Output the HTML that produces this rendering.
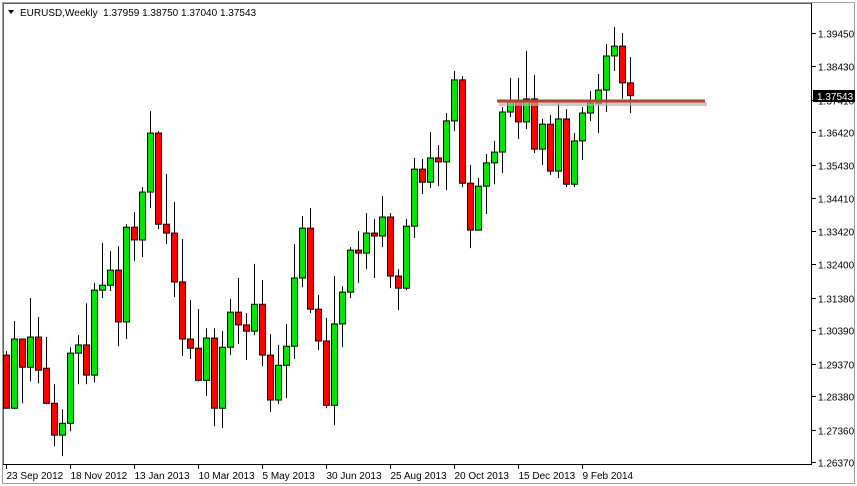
<!DOCTYPE html>
<html><head><meta charset="utf-8"><style>
html,body{margin:0;padding:0;background:#fff;}
body{width:857px;height:486px;overflow:hidden;font-family:"Liberation Sans",sans-serif;}
text{white-space:pre;}
</style></head><body>
<svg id="chart" width="857" height="486" xmlns="http://www.w3.org/2000/svg" style="display:block">
<rect x="0" y="0" width="857" height="486" fill="#fff"/>
<rect x="2.5" y="2.5" width="852" height="481" fill="none" stroke="#a0a0a0"/>
<line x1="3.5" y1="3" x2="3.5" y2="465" stroke="#606060"/>
<line x1="3" y1="3.5" x2="812" y2="3.5" stroke="#606060"/>
<line x1="811.5" y1="3" x2="811.5" y2="465" stroke="#000"/>
<line x1="3" y1="464.5" x2="812" y2="464.5" stroke="#000"/>
<g id="title">
<path d="M8,10 L14,10 L11,14 Z" fill="#000"/>
<text x="20" y="16" font-size="10" fill="#000" xml:space="preserve">EURUSD,Weekly  1.37959 1.38750 1.37040 1.37543</text>
</g>
<g id="yaxis"></g>
<g id="xaxis"></g>
<g id="candles"></g>
<g id="sr">
<line x1="499" y1="104" x2="707" y2="104" stroke="#b4b4b4" stroke-width="4" opacity="0.7"/>
<line x1="497" y1="101" x2="705" y2="101" stroke="#b9412f" stroke-width="3"/>
</g>
<g id="pricetag">
<rect x="813" y="90" width="42" height="12" fill="#000"/>
<text x="817" y="100" font-size="10" fill="#fff">1.37543</text>
</g>
</svg>
<script>
const yTicks=[1.39450,1.38430,1.37410,1.36420,1.35430,1.34410,1.33420,1.32400,1.31380,1.30390,1.29370,1.28380,1.27360,1.26370];
const xLabels=["23 Sep 2012","18 Nov 2012","13 Jan 2013","10 Mar 2013","5 May 2013","30 Jun 2013","25 Aug 2013","20 Oct 2013","15 Dec 2013","9 Feb 2014"];
const opens=[1.2963,1.2801,1.3012,1.2926,1.3018,1.2923,1.2816,1.2719,1.2755,1.2969,1.2994,1.2902,1.3161,1.3176,1.3222,1.3064,1.3353,1.3314,1.3460,1.3640,1.3362,1.3335,1.3186,1.3012,1.2984,1.2886,1.3015,1.2801,1.2987,1.3094,1.3055,1.3036,1.3118,1.2963,1.2826,1.2932,1.2990,1.3198,1.3350,1.3103,1.3006,1.2810,1.3058,1.3155,1.3283,1.3274,1.3335,1.3326,1.3384,1.3204,1.3167,1.3356,1.3530,1.3490,1.3564,1.3552,1.3677,1.3802,1.3487,1.3344,1.3478,1.3549,1.3582,1.3704,1.3735,1.3674,1.3744,1.3591,1.3667,1.3524,1.3683,1.3484,1.3616,1.3701,1.3731,1.3771,1.3875,1.3905,1.3793];
const highs=[1.2975,1.3067,1.3012,1.3137,1.3079,1.3018,1.2874,1.2798,1.2987,1.3024,1.3121,1.3183,1.3305,1.3280,1.3295,1.3362,1.3399,1.3475,1.3707,1.3646,1.3515,1.3430,1.3317,1.3131,1.3103,1.3045,1.3045,1.3036,1.3134,1.3198,1.3091,1.3241,1.3192,1.3027,1.2994,1.3058,1.3301,1.3387,1.3411,1.3146,1.3076,1.3204,1.3173,1.3292,1.3341,1.3396,1.3378,1.3448,1.3396,1.3225,1.3378,1.3564,1.3561,1.3643,1.3603,1.3701,1.3829,1.3814,1.3543,1.3503,1.3576,1.3616,1.3719,1.3808,1.3808,1.3890,1.3817,1.3683,1.3695,1.3731,1.3713,1.3640,1.3719,1.3768,1.3820,1.3911,1.3963,1.3945,1.3872];
const lows=[1.2801,1.2798,1.2816,1.2883,1.2877,1.2813,1.2685,1.2655,1.2731,1.2874,1.2874,1.2880,1.3137,1.3158,1.2990,1.3012,1.3250,1.3262,1.3411,1.3347,1.3301,1.3140,1.2960,1.2951,1.2883,1.2838,1.2746,1.2740,1.2963,1.2997,1.2948,1.3024,1.2929,1.2789,1.2813,1.2832,1.2951,1.3170,1.3091,1.2978,1.2801,1.2749,1.2987,1.3137,1.3183,1.3225,1.3198,1.3292,1.3167,1.3100,1.3161,1.3320,1.3454,1.3472,1.3478,1.3466,1.3646,1.3475,1.3289,1.3344,1.3393,1.3484,1.3518,1.3689,1.3622,1.3652,1.3579,1.3543,1.3512,1.3503,1.3475,1.3475,1.3558,1.3677,1.3640,1.3704,1.3829,1.3744,1.3701];
const closes=[1.2801,1.3012,1.2926,1.3018,1.2917,1.2816,1.2719,1.2755,1.2969,1.2994,1.2902,1.3161,1.3176,1.3222,1.3064,1.3353,1.3314,1.3460,1.3640,1.3362,1.3335,1.3186,1.3012,1.2984,1.2886,1.3015,1.2801,1.2987,1.3094,1.3055,1.3036,1.3118,1.2963,1.2826,1.2932,1.2990,1.3198,1.3350,1.3103,1.3006,1.2810,1.3058,1.3155,1.3283,1.3274,1.3335,1.3326,1.3384,1.3204,1.3167,1.3356,1.3530,1.3490,1.3564,1.3552,1.3677,1.3802,1.3487,1.3344,1.3478,1.3549,1.3582,1.3704,1.3735,1.3674,1.3744,1.3591,1.3667,1.3524,1.3683,1.3484,1.3616,1.3701,1.3731,1.3771,1.3875,1.3905,1.3793,1.3754];

const NS='http://www.w3.org/2000/svg';
function yScale(p){return 33+(1.3945-p)*3280;}
function xScale(i){return 5.5+8*i;}
function mk(tag,attrs,parent){const e=document.createElementNS(NS,tag);for(const k in attrs)e.setAttribute(k,attrs[k]);parent.appendChild(e);return e;}

const ya=document.getElementById('yaxis');
yTicks.forEach(function(v){
  const y=Math.round(yScale(v))+0.5;
  const t=mk('line',{x1:812,y1:y,x2:816,y2:y,stroke:'#000'},ya);
  
  
  const tx=mk('text',{x:818,y:y+4,'font-size':10,fill:'#000'},ya);
  tx.textContent=v.toFixed(5);
  
  
});

const xa=document.getElementById('xaxis');
xLabels.forEach(function(s,k){
  const x=Math.round(xScale(k*8))+0.5;
  const t=mk('line',{x1:x,y1:465,x2:x,y2:469,stroke:'#000'},xa);
  
  
  const tx=mk('text',{x:x,y:479,'font-size':10,fill:'#000'},xa);
  tx.textContent=s;
  
  
});

const cg=document.getElementById('candles');
opens.forEach(function(o,i){
  const c=closes[i],h=highs[i],l=lows[i];
  const x=Math.round(xScale(i));
  const g=mk('g',{},cg);
  
  
  mk('line',{x1:x+0.5,y1:yScale(h),x2:x+0.5,y2:yScale(l),stroke:'#000','stroke-width':1},g);
  const top=yScale(Math.max(o,c)),bot=yScale(Math.min(o,c));
  mk('rect',{x:x-2.5,y:top,width:6,height:Math.max(bot-top,2),fill:c>=o?'#00e600':'#ff0000',stroke:'#000','stroke-width':1},g);
});
</script>
</body></html>
